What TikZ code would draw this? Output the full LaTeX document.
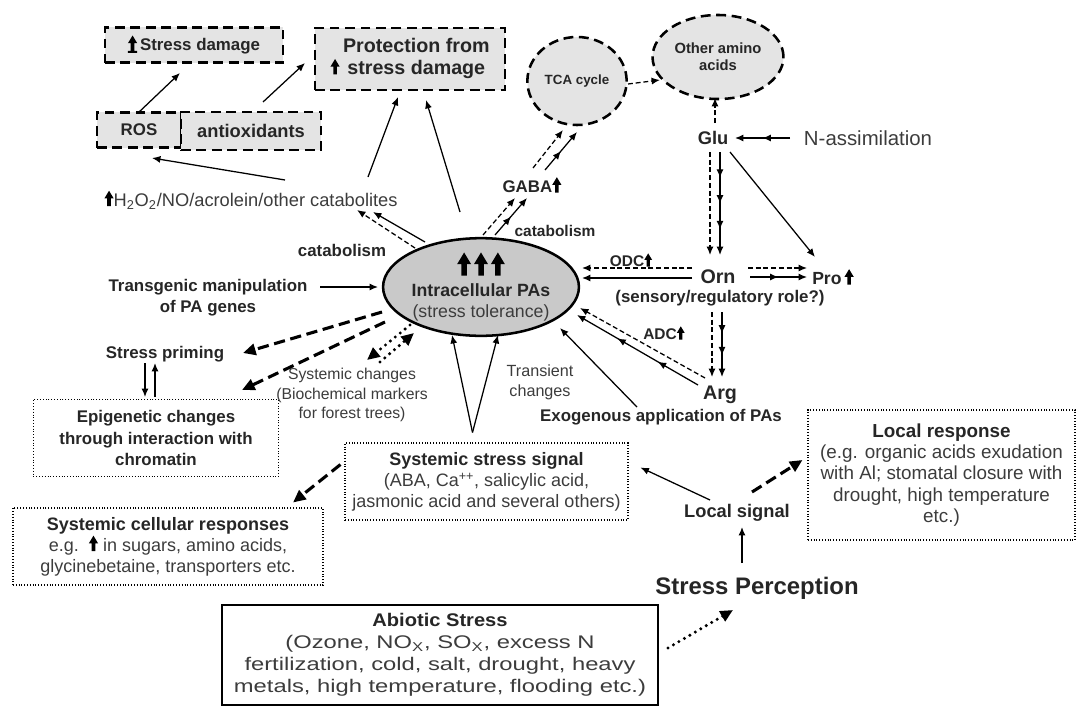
\documentclass[tikz,border=0pt]{standalone}
\usepackage{fontspec}
\setmainfont{Liberation Sans}
\usetikzlibrary{arrows.meta,calc,decorations.markings,shapes.geometric}

\definecolor{boxgray}{HTML}{E4E4E4}
\definecolor{ellgray}{HTML}{C9C9C9}
\definecolor{txtgray}{HTML}{3C3C3C}

% small bold up arrows used inside the labels
\newcommand{\uar}[1][1]{\tikz[baseline=0pt,x=1pt,y=1pt,scale=#1]\fill[black] (-1.3,0) rectangle (1.3,6) (-3.3,5.5) -- (0,11) -- (3.3,5.5) -- cycle;}
\newcommand{\uarbar}{\tikz[baseline=0pt,x=1pt,y=1pt]\fill[black] (-1.3,0) rectangle (1.3,6) (-3.3,5.5) -- (0,11) -- (3.3,5.5) -- cycle (-3.3,-1.3) rectangle (3.3,0);}
% bold first line of a box
\newcommand{\hd}[1]{\textcolor{black!85}{\bfseries #1}}

\begin{document}
\begin{tikzpicture}[
		x=0.025cm, y=-0.025cm,
		lbl/.style={font=\fontsize{12}{15}\selectfont\bfseries, text=black!85, align=center},
		txt/.style={font=\fontsize{12.8}{15}\selectfont, text=txtgray, align=center},
		dbox/.style={draw, line width=1.8pt, dash pattern=on 7pt off 4pt, fill=boxgray, inner sep=2pt},
		dotbox/.style={draw, line width=1.1pt, dash pattern=on 0.7pt off 1.3pt},
		arrow/.style={-{Latex[length=6pt,width=5pt]}, line width=0.9pt},
		darrow/.style={arrow, dash pattern=on 3.5pt off 2pt},
		chaintwo/.style={arrow, postaction={decorate}, decoration={markings, mark=at position 0.5 with {\arrow{Latex[length=6pt,width=5pt]}}}},
		chainthree/.style={arrow, postaction={decorate}, decoration={markings, mark=at position 0.333 with {\arrow{Latex[length=6pt,width=5pt]}}, mark=at position 0.667 with {\arrow{Latex[length=6pt,width=5pt]}}}},
		chainfour/.style={arrow, postaction={decorate}, decoration={markings, mark=at position 0.25 with {\arrow{Latex[length=6pt,width=5pt]}}, mark=at position 0.5 with {\arrow{Latex[length=6pt,width=5pt]}}, mark=at position 0.75 with {\arrow{Latex[length=6pt,width=5pt]}}}},
		bigdash/.style={-{Triangle[length=9pt,width=8pt]}, line width=2.2pt, dash pattern=on 8pt off 4pt},
		dotarrow/.style={-{Triangle[length=9pt,width=8pt]}, line width=2.4pt, dash pattern=on 0pt off 4.5pt, line cap=round},
	]
		\useasboundingbox (0,0) rectangle (1083,711);

		% top boxes
		\node (sdam) at (194,45) [dbox, lbl, minimum width=4.45cm, minimum height=0.875cm] {\uarbar\,Stress damage};
		\node (prot) at (410,59) [dbox, lbl, font=\fontsize{14}{16}\selectfont\bfseries, minimum width=4.75cm, minimum height=1.55cm] {\raisebox{-1ex}{\uar}\,\begin{tabular}{@{}c@{}}Protection from\\stress damage\end{tabular}};
		\node (ros) at (139,130) [dbox, lbl, minimum width=2.1cm, minimum height=0.875cm] {ROS};
		\node (antiox) at (251,131) [dbox, lbl, font=\fontsize{13}{15}\selectfont\bfseries, minimum width=3.5cm, minimum height=0.95cm] {antioxidants};
		\node (tca) at (577,81) [dbox, ellipse, lbl, font=\fontsize{9.5}{11}\selectfont\bfseries, minimum width=2.25cm, minimum height=2.2cm] {TCA cycle};
		\node (oaa) at (718,57) [dbox, ellipse, lbl, font=\fontsize{10.5}{12}\selectfont\bfseries, minimum width=2.9cm, minimum height=2.1cm] {Other amino\\acids};

		\node (glu) at (713,138) [lbl, font=\fontsize{13}{15}\selectfont\bfseries] {Glu};
		\node (nass) at (868,138) [txt, font=\fontsize{14.5}{17}\selectfont] {N-assimilation};
		\node (hcat) at (251,200) [txt, font=\fontsize{13}{15}\selectfont] {\uar H\textsubscript{2}O\textsubscript{2}/NO/acrolein/other catabolites};
		\node (gaba) at (532,185) [lbl] {GABA\uar};
		\node (catl) at (342,250) [lbl] {catabolism};
		\node (catr) at (555,231) [lbl, font=\fontsize{11}{13}\selectfont\bfseries] {catabolism};

		% central ellipse
		\node (pas) at (481,287) [ellipse, draw, line width=1.8pt, fill=ellgray, txt, font=\fontsize{12.6}{15}\selectfont, minimum width=4.65cm, minimum height=2.25cm, inner sep=0pt] {\uar[1.5]\,\uar[1.5]\,\uar[1.5]\\\hd{Intracellular PAs}\\(stress tolerance)};

		\node (tgm) at (208,298) [lbl] {Transgenic manipulation\\of PA genes};
		\node (spr) at (165,354) [lbl] {Stress priming};
		\node (epi) at (156,438) [dotbox, lbl, minimum width=6.125cm, minimum height=1.925cm] {Epigenetic changes\\through interaction with\\chromatin};
		\node (sysch) at (352,395) [txt, font=\fontsize{11.2}{14}\selectfont] {Systemic changes\\(Biochemical markers\\for forest trees)};
		\node (trans) at (540,382) [txt, font=\fontsize{11.5}{14}\selectfont] {Transient\\changes};
		\node (exo) at (661,417) [lbl] {Exogenous application of PAs};

		% amino acid side
		\node (orn) at (718,277) [lbl, font=\fontsize{14}{16}\selectfont\bfseries] {Orn};
		\node (srr) at (720,298) [lbl] {(sensory/regulatory role?)};
		\node (pro) at (833,277) [lbl, font=\fontsize{12.5}{15}\selectfont\bfseries] {Pro\,\uar};
		\node (arg) at (720,395) [lbl, font=\fontsize{14}{16}\selectfont\bfseries] {Arg};
		\node (odc) at (631,260) [lbl, font=\fontsize{11}{12}\selectfont\bfseries] {ODC\uar[0.85]};
		\node (adc) at (664,333) [lbl, font=\fontsize{11}{12}\selectfont\bfseries] {ADC\uar[0.85]};

		% lower part
		\node (sss) at (486.5,481.5) [dotbox, txt, minimum width=7.075cm, minimum height=1.925cm] {\hd{Systemic stress signal}\\(ABA, Ca\textsuperscript{++}, salicylic acid,\\jasmonic acid and several others)};
		\node (scr) at (168,546.5) [dotbox, txt, minimum width=7.75cm, minimum height=1.925cm] {\hd{Systemic cellular responses}\\e.g.\ \ \uar{} in sugars, amino acids,\\glycinebetaine, transporters etc.};
		\node (lsig) at (737,513) [lbl, font=\fontsize{13}{15}\selectfont\bfseries] {Local signal};
		\node (lres) at (941.5,475) [dotbox, txt, font=\fontsize{13.4}{15.2}\selectfont, minimum width=6.675cm, minimum height=3.25cm] {\hd{Local response}\\(e.g. organic acids exudation\\with Al; stomatal closure with\\drought, high temperature\\etc.)};
		\node (sper) at (757,588) [lbl, font=\fontsize{17}{20}\selectfont\bfseries] {Stress Perception};
		\node (abio) at (440,655) [draw, line width=1.2pt, txt, font=\fontsize{13}{15.6}\selectfont, minimum width=10.9cm, minimum height=2.5cm] {\hd{\scalebox{1.1}[1]{Abiotic Stress}}\\\scalebox{1.3}[1]{(Ozone, NO\textsubscript{X}, SO\textsubscript{X}, excess N}\\\scalebox{1.3}[1]{fertilization, cold, salt, drought, heavy}\\\scalebox{1.3}[1]{metals, high temperature, flooding etc.)}};

		% connectors, top
		\draw[arrow] ($(ros)+(-1,-17)$) -- ($(sdam)+(-14,28)$);
		\draw[arrow] ($(antiox)+(12,-29)$) -- ($(prot)+(-105,4)$);
		\draw[arrow] ($(hcat)+(34,-20)$) -- ($(ros)+(13,28)$);
		\draw[arrow] ($(hcat)+(117,-23)$) -- ($(prot)+(-12,38)$);
		\draw[arrow] ($(pas)+(-21,-75)$) -- ($(prot)+(16,41)$);
		\draw[darrow] ($(pas)+(-66,-39)$) -- ($(hcat)+(106,10)$);
		\draw[arrow] ($(pas)+(-56,-45)$) -- ($(hcat)+(122,12)$);
		\draw[darrow] ($(pas)+(2,-52)$) -- ($(gaba)+(-17,13)$);
		\draw[chaintwo] ($(pas)+(14,-52)$) -- ($(gaba)+(-5,13)$);
		\draw[darrow] ($(gaba)+(1,-17)$) -- ($(tca)+(-14,49)$);
		\draw[chaintwo] ($(gaba)+(13,-15)$) -- ($(tca)+(0,51)$);
		\draw[darrow] ($(tca)+(51,3)$) -- ($(oaa)+(-58,23)$);
		\draw[darrow] ($(glu)+(2,-15)$) -- ($(oaa)+(-3,41)$);
		\draw[chaintwo] ($(nass)+(-78,0)$) -- ($(glu)+(22,0)$);

		% amino acid pathway
		\draw[darrow] ($(glu)+(-3,14)$) -- ($(orn)+(-8,-22)$);
		\draw[chainfour] ($(glu)+(7,14)$) -- ($(orn)+(2,-22)$);
		\draw[arrow] ($(glu)+(17,14)$) -- ($(pro)+(-18,-20)$);
		\draw[darrow] ($(orn)+(30,-9)$) -- ($(pro)+(-26,-9)$);
		\draw[chaintwo] ($(orn)+(32,0)$) -- ($(pro)+(-26,0)$);
		\draw[darrow] ($(orn)+(-26,-9)$) -- ($(pas)+(101,-19)$);
		\draw[arrow] ($(orn)+(-26,1)$) -- ($(pas)+(101,-9)$);
		\draw[darrow] ($(orn)+(-6,35)$) -- ($(arg)+(-8,-18)$);
		\draw[chainthree] ($(orn)+(4,35)$) -- ($(arg)+(2,-18)$);
		\draw[darrow] ($(arg)+(-15,-17)$) -- ($(pas)+(99,21)$);
		\draw[chainthree] ($(arg)+(-22,-10)$) -- ($(pas)+(96,28)$);
		\draw[arrow] ($(exo)+(-24,-10)$) -- ($(pas)+(79,41)$);

		% left side
		\draw[arrow] ($(tgm)+(112,-11)$) -- ($(pas)+(-103,0)$);
		\draw[bigdash] ($(pas)+(-99,25)$) -- ($(spr)+(78,-1)$);
		\draw[bigdash] ($(pas)+(-96,35)$) -- ($(epi)+(86,-48)$);
		\draw[arrow] ($(spr)+(-20,9)$) -- ($(epi)+(-11,-41)$);
		\draw[arrow] ($(epi)+(-1,-41)$) -- ($(spr)+(-10,9)$);
		\draw[dotarrow] ($(pas)+(-71,38)$) -- ($(sysch)+(15,-35)$);
		\draw[dotarrow] ($(sysch)+(28,-33)$) -- ($(pas)+(-67,46)$);

		% signals
		\draw[arrow] ($(sss)+(-14,-49)$) -- ($(pas)+(-29,48)$);
		\draw[arrow] ($(sss)+(-14,-49)$) -- ($(pas)+(17,48)$);
		\draw[bigdash] ($(sss)+(-146,-17)$) -- ($(scr)+(125,-44)$);
		\draw[arrow] ($(lsig)+(-27,-13)$) -- ($(sss)+(154,-14)$);
		\draw[bigdash] ($(lsig)+(15,-21)$) -- ($(lres)+(-139,-15)$);
		\draw[arrow] ($(sper)+(-15,-25)$) -- ($(lsig)+(5,14)$);
		\draw[dotarrow] ($(abio)+(228,-7)$) -- ($(sper)+(-24,22)$);
	\end{tikzpicture}
\end{document}
